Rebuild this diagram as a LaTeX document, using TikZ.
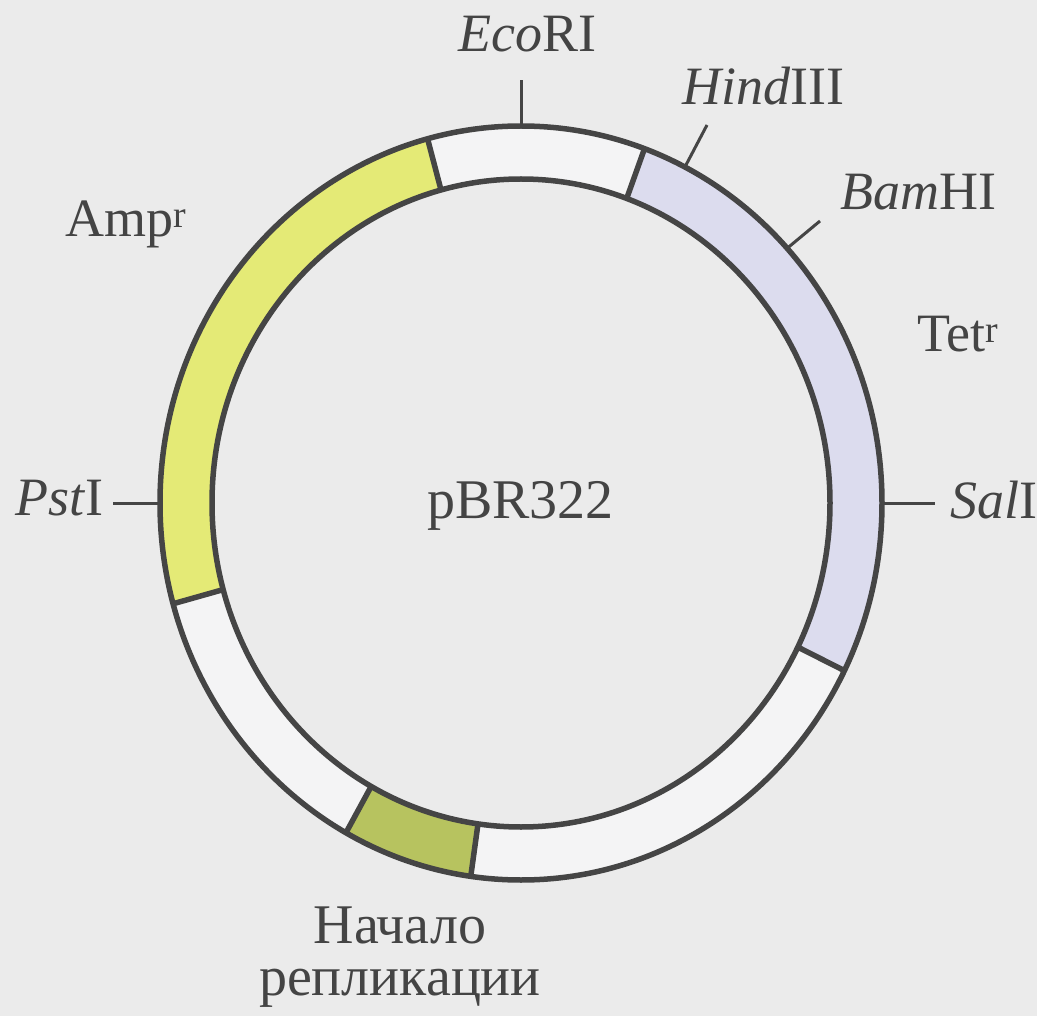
\documentclass[tikz,border=0pt]{standalone}
\usepackage{fontspec}
\setmainfont{Liberation Serif}
\usetikzlibrary{calc}
\definecolor{bg}{HTML}{EBEBEB}
\definecolor{ringw}{HTML}{F4F4F5}
\definecolor{ampc}{HTML}{E4EA76}
\definecolor{tetc}{HTML}{DCDCEE}
\definecolor{oric}{HTML}{B7C35F}
\definecolor{linec}{HTML}{454545}
\definecolor{textc}{HTML}{444444}
\newcommand\plasmidseg[3]{%
  \fill[#1] (#2:361pt and 377pt) arc[start angle=#2, end angle=#3, x radius=361pt, y radius=377pt]
    -- (#3:309pt and 324pt) arc[start angle=#3, end angle=#2, x radius=309pt, y radius=324pt] -- cycle;}
\begin{document}
\begin{tikzpicture}[x=1pt,y=1pt,
  ring/.style={line width=5.5pt, draw=linec},
  tickline/.style={line width=3pt, draw=linec},
  lbl/.style={inner sep=0pt, text=textc, font=\fontsize{54}{60}\selectfont},
  biglbl/.style={inner sep=0pt, text=textc, font=\fontsize{56}{60}\selectfont}]
\fill[bg] (0,0) rectangle (1037,-1016);
\useasboundingbox (0,0) rectangle (1037,-1016);
\begin{scope}[shift={(521,-503)}]
  \fill[ringw, even odd rule] (0,0) ellipse[x radius=361pt, y radius=377pt]
                              (0,0) ellipse[x radius=309pt, y radius=324pt];
  \plasmidseg{ampc}{105}{195.5}
  \plasmidseg{oric}{241}{262}
  \plasmidseg{tetc}{-26.4}{70}
  \draw[ring] (0,0) ellipse[x radius=361pt, y radius=377pt];
  \draw[ring] (0,0) ellipse[x radius=309pt, y radius=324pt];
  \foreach \t/\n in {105/a1,195.5/a2,241/o1,262/o2,-26.4/t1,70/t2}{
    \coordinate (\n i) at (\t:309pt and 324pt);
    \coordinate (\n o) at (\t:361pt and 377pt);
    \draw[ring] (\n i) -- (\n o);
  }
  \coordinate (ecoO) at (90:361pt and 377pt);
  \coordinate (hindO) at (63:361pt and 377pt);
  \coordinate (bamO) at (42.5:361pt and 377pt);
  \coordinate (salO) at (0:361pt and 377pt);
  \coordinate (pstO) at (180:361pt and 377pt);
\end{scope}
\coordinate (ecoT) at (521,-80);
\coordinate (hindT) at (707,-125);
\coordinate (bamT) at (820,-221);
\coordinate (salT) at (935,-503);
\coordinate (pstT) at (113,-503);
\draw[tickline] (ecoO) -- (ecoT);
\draw[tickline] (hindO) -- (hindT);
\draw[tickline] (bamO) -- (bamT);
\draw[tickline] (salO) -- (salT);
\draw[tickline] (pstO) -- (pstT);
\node[lbl, anchor=base west] (eco) at (458,-52) {\textit{Eco}RI};
\node[lbl, anchor=base west] (hind) at (682,-105) {\textit{Hind}III};
\node[lbl, anchor=base west] (bam) at (840,-210) {\textit{Bam}HI};
\node[lbl, anchor=base west] (tet) at (917,-352) {Tet\textsuperscript{r}};
\node[lbl, anchor=base west] (amp) at (65,-237) {Amp\textsuperscript{r}};
\node[lbl, anchor=base west] (pst) at (15,-515) {\textit{Pst}I};
\node[lbl, anchor=base west] (sal) at (950,-518) {\textit{Sal}I};
\node[biglbl, anchor=base west] (pbr) at (427,-518) {pBR322};
\node[biglbl, anchor=base] (ori1) at (400,-943) {Начало};
\node[biglbl, anchor=base] (ori2) at (400,-995) {репликации};
\end{tikzpicture}
\end{document}
